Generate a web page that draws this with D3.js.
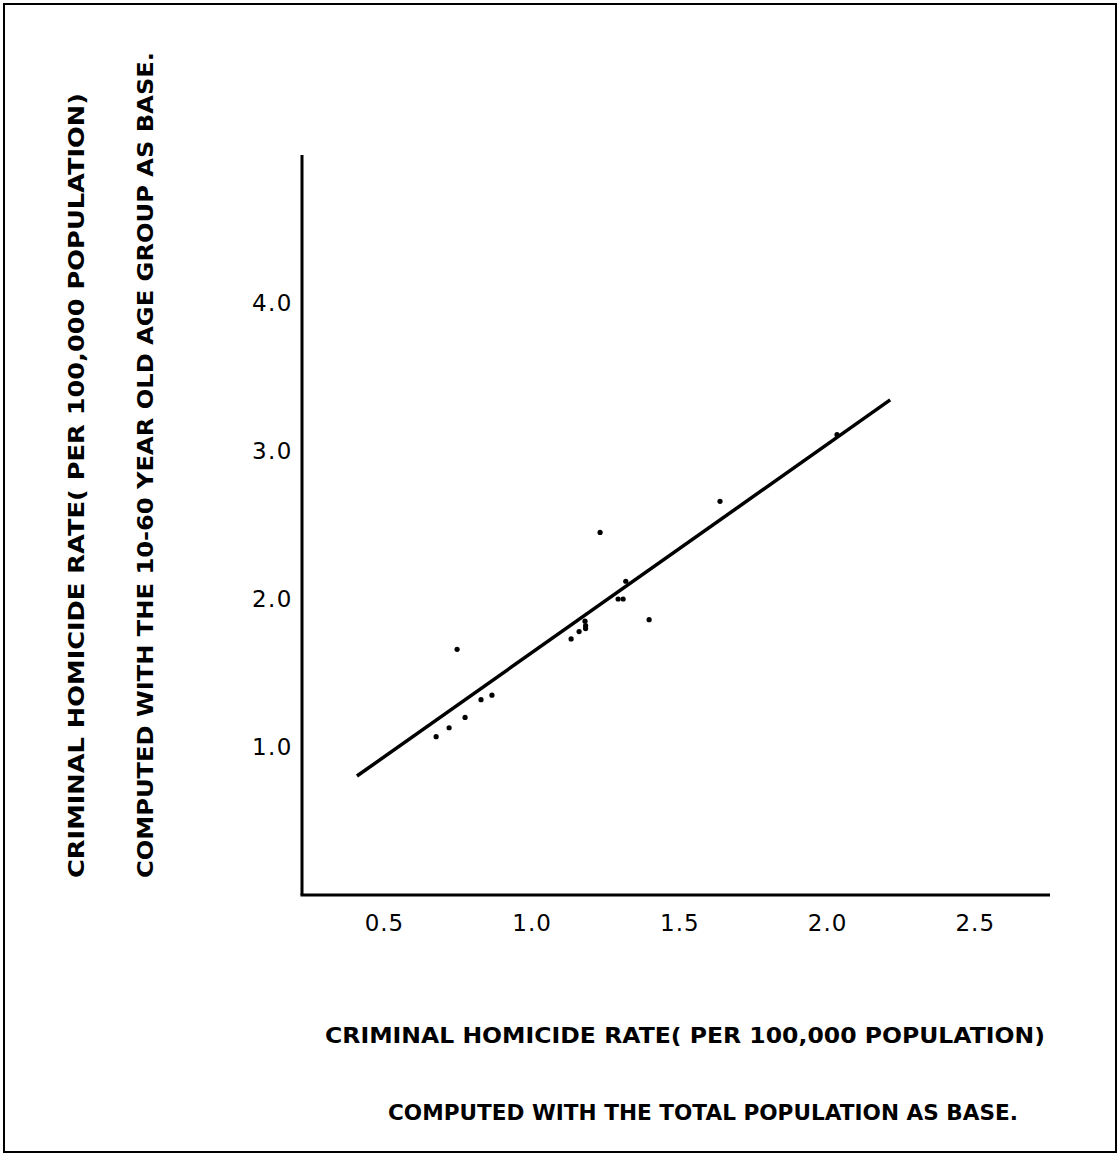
<html lang="en">

<head>
  <meta charset="UTF-8">
  <title>Criminal Homicide Rate</title>
  <script src="https://d3js.org/d3.v7.min.js"></script>
  <style>
    body { margin: 0; background: white; }
    text { fill: black; }
  </style>
</head>

<body>
  <svg id="chart" width="1120" height="1155"></svg>
  <script>
    // rate with total population as base (x) vs 10-60 age group as base (y)
    const totalBase = [1.230, 1.317, 1.291, 1.308, 1.396, 1.179, 1.181, 1.181, 1.159, 1.132,
      0.746, 0.864, 0.827, 0.773, 0.719, 0.675, 1.636, 2.032];
    const ageGroupBase = [2.45, 2.12, 2.00, 2.00, 1.86, 1.85, 1.82, 1.80, 1.78, 1.73,
      1.66, 1.35, 1.32, 1.20, 1.13, 1.07, 2.66, 3.11];
    // fitted line end points
    const fitX = [0.407, 2.212];
    const fitY = [0.804, 3.345];
    const xTicks = [0.5, 1.0, 1.5, 2.0, 2.5];
    const yTicks = [1.0, 2.0, 3.0, 4.0];
    const xTitle = ["CRIMINAL  HOMICIDE  RATE( PER  100,000  POPULATION)",
      "COMPUTED  WITH  THE  TOTAL POPULATION  AS  BASE."];
    const yTitle = ["CRIMINAL HOMICIDE RATE( PER  100,000  POPULATION)",
      "COMPUTED  WITH  THE  10-60  YEAR  OLD  AGE  GROUP  AS BASE."];

    const svg = d3.select("#chart");
    const font = "'DejaVu Sans', sans-serif";

    // frame
    svg.append("rect")
      .attr("x", 4).attr("y", 4).attr("width", 1112).attr("height", 1148)
      .attr("fill", "none").attr("stroke", "black").attr("stroke-width", 2);

    const x = d3.scaleLinear().domain([0.221, 2.753]).range([302, 1050]);
    const y = d3.scaleLinear().domain([0, 5]).range([895, 155]);

    // axes (plain lines, no tick marks)
    svg.append("line")
      .attr("x1", x(0.221)).attr("x2", x(0.221))
      .attr("y1", y(5)).attr("y2", y(0))
      .attr("stroke", "black").attr("stroke-width", 3);
    svg.append("line")
      .attr("x1", x(0.221) - 1.5).attr("x2", x(2.753))
      .attr("y1", y(0)).attr("y2", y(0))
      .attr("stroke", "black").attr("stroke-width", 3);

    svg.selectAll("text.xtick").data(xTicks)
      .join("text")
      .attr("class", "xtick")
      .attr("x", d => x(d))
      .attr("y", 931)
      .attr("text-anchor", "middle")
      .attr("font-family", font)
      .attr("font-size", 23)
      .attr("letter-spacing", 1)
      .text(d => d.toFixed(1));

    svg.selectAll("text.ytick").data(yTicks)
      .join("text")
      .attr("class", "ytick")
      .attr("x", 293)
      .attr("y", d => y(d) + 8)
      .attr("text-anchor", "end")
      .attr("font-family", font)
      .attr("font-size", 23)
      .attr("letter-spacing", 1.5)
      .text(d => d.toFixed(1));

    // regression line
    svg.append("line")
      .attr("x1", x(fitX[0])).attr("y1", y(fitY[0]))
      .attr("x2", x(fitX[1])).attr("y2", y(fitY[1]))
      .attr("stroke", "black").attr("stroke-width", 3.5);

    svg.selectAll("circle.pt").data(totalBase)
      .join("circle")
      .attr("class", "pt")
      .attr("cx", d => x(d))
      .attr("cy", (d, i) => y(ageGroupBase[i]))
      .attr("r", 2.6)
      .attr("fill", "black");

    // x titles
    svg.append("text")
      .attr("x", 325).attr("y", 1043)
      .attr("font-family", font).attr("font-weight", "bold").attr("font-size", 22)
      .attr("textLength", 720).attr("lengthAdjust", "spacingAndGlyphs")
      .text(xTitle[0]);
    svg.append("text")
      .attr("x", 388).attr("y", 1120)
      .attr("font-family", font).attr("font-weight", "bold").attr("font-size", 22)
      .attr("textLength", 630).attr("lengthAdjust", "spacingAndGlyphs")
      .text(xTitle[1]);

    // y titles (rotated)
    svg.append("text")
      .attr("transform", "translate(84,878) rotate(-90)")
      .attr("font-family", font).attr("font-weight", "bold").attr("font-size", 22)
      .attr("textLength", 785).attr("lengthAdjust", "spacingAndGlyphs")
      .text(yTitle[0]);
    svg.append("text")
      .attr("transform", "translate(153,878) rotate(-90)")
      .attr("font-family", font).attr("font-weight", "bold").attr("font-size", 22)
      .attr("textLength", 826).attr("lengthAdjust", "spacingAndGlyphs")
      .text(yTitle[1]);
  </script>
</body>

</html>
